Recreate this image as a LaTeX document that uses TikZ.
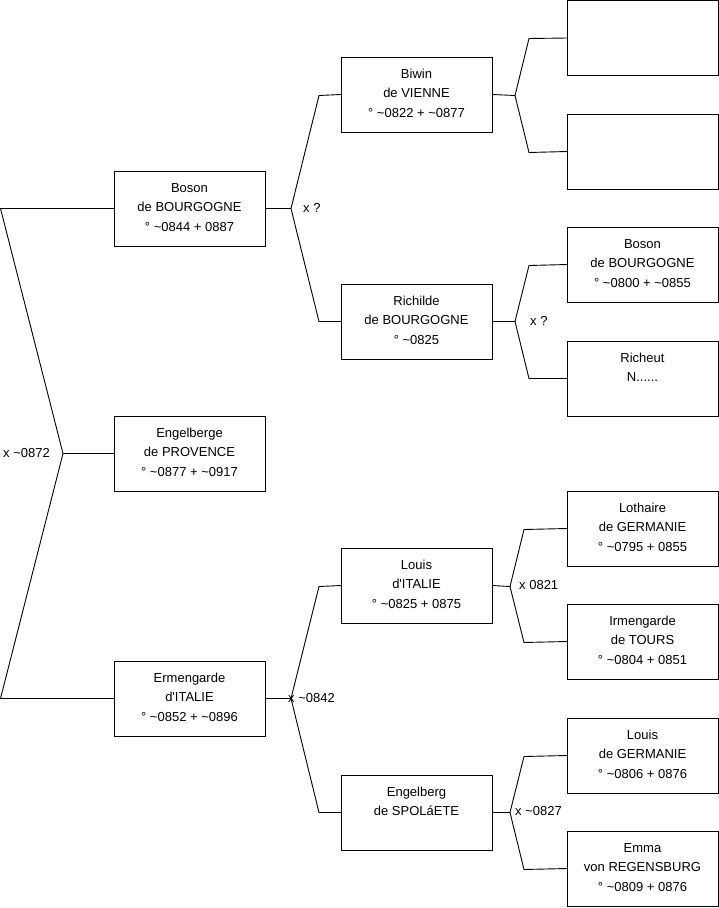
\documentclass[tikz,border=0pt]{standalone}
\usepackage{fontspec}
\setmainfont{Liberation Sans}[Ligatures=TeXOff]
\newcommand\tl{\textasciitilde}
\newcommand\pb[1]{\parbox[c][75pt][t]{151pt}{\centering\fontsize{13}{19.5}\selectfont\rule{0pt}{21pt}#1\par}}
\tikzset{
  pbox/.style={draw=black, line width=0.9pt, inner sep=0pt, outer sep=0pt, anchor=north west},
  conn/.style={draw=black, line width=0.9pt},
  lbl/.style={inner sep=0pt, anchor=west, font=\fontsize{13}{15}\selectfont}
}
\begin{document}
\begin{tikzpicture}[x=1pt,y=-1pt]
\useasboundingbox (0,0) rectangle (719,908);
% column 1
\node[pbox] (b1) at (114,171) {\pb{Boson\\de BOURGOGNE\\° \tl0844 + 0887}};
\node[pbox] (e1) at (114,416) {\pb{Engelberge\\de PROVENCE\\° \tl0877 + \tl0917}};
\node[pbox] (m1) at (114,661) {\pb{Ermengarde\\d'ITALIE\\° \tl0852 + \tl0896}};
% column 2
\node[pbox] (bw) at (341,57) {\pb{Biwin\\de VIENNE\\° \tl0822 + \tl0877}};
\node[pbox] (ri) at (341,284) {\pb{Richilde\\de BOURGOGNE\\° \tl0825}};
\node[pbox] (lo) at (341,548) {\pb{Louis\\d'ITALIE\\° \tl0825 + 0875}};
\node[pbox] (en) at (341,775) {\pb{Engelberg\\de SPOLáETE}};
% column 3
\node[pbox] (x1) at (567,0.5) {\pb{}};
\node[pbox] (x2) at (567,114) {\pb{}};
\node[pbox] (bo) at (567,227) {\pb{Boson\\de BOURGOGNE\\° \tl0800 + \tl0855}};
\node[pbox] (rc) at (567,341) {\pb{Richeut\\N......}};
\node[pbox] (lt) at (567,491) {\pb{Lothaire\\de GERMANIE\\° \tl0795 + 0855}};
\node[pbox] (ir) at (567,604) {\pb{Irmengarde\\de TOURS\\° \tl0804 + 0851}};
\node[pbox] (lg) at (567,718) {\pb{Louis\\de GERMANIE\\° \tl0806 + 0876}};
\node[pbox] (em) at (567,831) {\pb{Emma\\von REGENSBURG\\° \tl0809 + 0876}};
% fork 1
\coordinate (a1) at (0.5,208.5);
\coordinate (a2) at (0.5,698.5);
\coordinate (j1) at (63,453.5);
\draw[conn] (b1.west) -- (a1) -- (j1) -- (a2) -- (m1.west);
\draw[conn] (j1) -- (e1.west);
% fork 2
\coordinate (j2) at (291,208.5);
\coordinate (u2) at (319,95.5);
\coordinate (d2) at (319,321.5);
\draw[conn] (b1.east) -- (j2);
\draw[conn] (bw.west) -- (u2) -- (j2) -- (d2) -- (ri.west);
% fork 3 (Biwin)
\coordinate (j3) at (515,95.5);
\coordinate (u3) at (529,38.5);
\coordinate (d3) at (529,152.5);
\draw[conn] (bw.east) -- (j3);
\draw[conn] (x1.west) -- (u3) -- (j3) -- (d3) -- (x2.west);
% fork 4 (Richilde)
\coordinate (j4) at (515,321.5);
\coordinate (u4) at (529,265.5);
\coordinate (d4) at (529,378.5);
\draw[conn] (ri.east) -- (j4);
\draw[conn] (bo.west) -- (u4) -- (j4) -- (d4) -- (rc.west);
% fork 5 (Ermengarde)
\coordinate (j5) at (291,698.5);
\coordinate (u5) at (319,586.5);
\coordinate (d5) at (319,812.5);
\draw[conn] (m1.east) -- (j5);
\draw[conn] (lo.west) -- (u5) -- (j5) -- (d5) -- (en.west);
% fork 6 (Louis)
\coordinate (j6) at (510,586.5);
\coordinate (u6) at (524,529.5);
\coordinate (d6) at (524,642.5);
\draw[conn] (lo.east) -- (j6);
\draw[conn] (lt.west) -- (u6) -- (j6) -- (d6) -- (ir.west);
% fork 7 (Engelberg)
\coordinate (j7) at (510,812.5);
\coordinate (u7) at (524,756.5);
\coordinate (d7) at (524,869.5);
\draw[conn] (en.east) -- (j7);
\draw[conn] (lg.west) -- (u7) -- (j7) -- (d7) -- (em.west);
% labels
\node[lbl] (l1) at (3,453) {x \tl0872};
\node[lbl] (l2) at (303,208) {x ?};
\node[lbl] (l3) at (530,321) {x ?};
\node[lbl] (l4) at (288,698) {x \tl0842};
\node[lbl] (l5) at (519,585) {x 0821};
\node[lbl] (l6) at (515,811) {x \tl0827};
\end{tikzpicture}
\end{document}
